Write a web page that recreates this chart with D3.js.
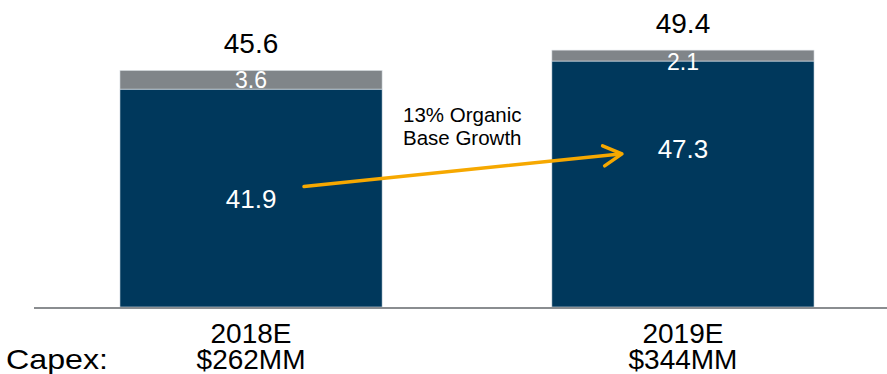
<!DOCTYPE html>
<html>
<head>
<meta charset="utf-8">
<script src="https://cdn.jsdelivr.net/npm/d3@7/dist/d3.min.js"></script>
<style>
  html, body { margin: 0; padding: 0; background: #fff; }
  svg { display: block; font-family: "Liberation Sans", Arial, sans-serif; }
</style>
</head>
<body>
<svg id="chart" width="887" height="374"></svg>
<script>
// Categories and stacked series values
const years = ["2018E", "2019E"];
const capex = ["$262MM", "$344MM"];
const baseValues = [41.9, 47.3];     // organic base (navy)
const addOnValues = [3.6, 2.1];      // incremental (grey)
const totals = [45.6, 49.4];
const growthNote = ["13% Organic", "Base Growth"];

const W = 887, H = 374;
const navy = "#00385C", grey = "#808589", orange = "#F6A800";

const svg = d3.select("#chart");

const x = d3.scaleBand().domain(years).range([34, 900]).paddingInner(0.393).paddingOuter(0.199);
const y = d3.scaleLinear().domain([0, 50]).range([307, 47]);
const bw = x.bandwidth();
const cx = d => x(d) + bw / 2;

const rows = years.map((yr, i) => ({ yr, base: baseValues[i], add: addOnValues[i], total: totals[i], capex: capex[i] }));

// Base segment
svg.selectAll("rect.base").data(rows).join("rect")
  .attr("class", "base")
  .attr("x", d => x(d.yr)).attr("width", bw)
  .attr("y", d => y(d.base)).attr("height", d => y(0) - y(d.base))
  .attr("fill", navy).attr("stroke", "#dfe5ea").attr("stroke-width", 0.6);

// Add-on segment stacked on top
svg.selectAll("rect.add").data(rows).join("rect")
  .attr("class", "add")
  .attr("x", d => x(d.yr)).attr("width", bw)
  .attr("y", d => y(d.base + d.add)).attr("height", d => y(d.base) - y(d.base + d.add))
  .attr("fill", grey).attr("stroke", "#dfe5ea").attr("stroke-width", 0.6);

// Baseline
svg.append("line")
  .attr("x1", x.range()[0]).attr("x2", W)
  .attr("y1", y(0) + 1).attr("y2", y(0) + 1)
  .attr("stroke", "#8a8d90").attr("stroke-width", 2);

// Totals above bars
svg.selectAll("text.total").data(rows).join("text")
  .attr("class", "total")
  .attr("x", d => cx(d.yr)).attr("y", d => y(d.total) - 17)
  .attr("text-anchor", "middle").attr("font-size", 28).attr("fill", "#000")
  .text(d => d.total.toFixed(1));

// Add-on labels: centred in segment, or on its lower edge when the segment is thin
svg.selectAll("text.addlbl").data(rows).join("text")
  .attr("class", "addlbl")
  .attr("x", d => cx(d.yr))
  .attr("y", d => {
    const top = y(d.base + d.add), bot = y(d.base);
    const c = (bot - top) < 16 ? bot : (top + bot) / 2;
    return c + 8.5;
  })
  .attr("text-anchor", "middle").attr("font-size", 23).attr("fill", "#fff")
  .text(d => d.add.toFixed(1));

// Base labels
const baseLabelY = [y(baseValues[0]) + (y(0) - y(baseValues[0])) / 2, y(30.4)];
svg.selectAll("text.baselbl").data(rows).join("text")
  .attr("class", "baselbl")
  .attr("x", d => cx(d.yr))
  .attr("y", (d, i) => baseLabelY[i] + 9.5)
  .attr("text-anchor", "middle").attr("font-size", 26).attr("fill", "#fff")
  .text(d => d.base.toFixed(1));

// Growth arrow between the base labels
const ax1 = cx(years[0]) + 53, ay1 = baseLabelY[0] - 11.5;
const ax2 = cx(years[1]) - 61, ay2 = baseLabelY[1] + 5;
svg.append("line")
  .attr("x1", ax1).attr("y1", ay1).attr("x2", ax2 - 2).attr("y2", ay2)
  .attr("stroke", orange).attr("stroke-width", 3.5).attr("stroke-linecap", "round");
const ang = Math.atan2(ay2 - ay1, ax2 - ax1);
const hl = 21, hw = 0.5;
svg.append("polyline")
  .attr("points", [
    [ax2 - hl * Math.cos(ang - hw), ay2 - hl * Math.sin(ang - hw)],
    [ax2, ay2],
    [ax2 - hl * Math.cos(ang + hw), ay2 - hl * Math.sin(ang + hw)]
  ].map(p => p.join(",")).join(" "))
  .attr("fill", "none").attr("stroke", orange).attr("stroke-width", 3.5)
  .attr("stroke-linecap", "round").attr("stroke-linejoin", "round");

// Annotation
svg.append("text")
  .attr("x", 403).attr("y", 121.5)
  .attr("font-size", 20.5).attr("fill", "#000")
  .selectAll("tspan").data(growthNote).join("tspan")
  .attr("x", 403).attr("dy", (d, i) => i === 0 ? 0 : 23.5)
  .text(d => d);

// Category and capex labels
svg.selectAll("text.cat").data(rows).join("text")
  .attr("class", "cat")
  .attr("x", d => cx(d.yr)).attr("y", 343)
  .attr("text-anchor", "middle").attr("font-size", 28).attr("fill", "#000")
  .text(d => d.yr);
svg.selectAll("text.capex").data(rows).join("text")
  .attr("class", "capex")
  .attr("x", d => cx(d.yr)).attr("y", 369)
  .attr("text-anchor", "middle").attr("font-size", 28).attr("fill", "#000")
  .text(d => d.capex);
svg.append("text")
  .attr("x", 6).attr("y", 369)
  .attr("font-size", 28).attr("fill", "#000")
  .attr("textLength", 102).attr("lengthAdjust", "spacingAndGlyphs")
  .text("Capex:");
</script>
</body>
</html>
